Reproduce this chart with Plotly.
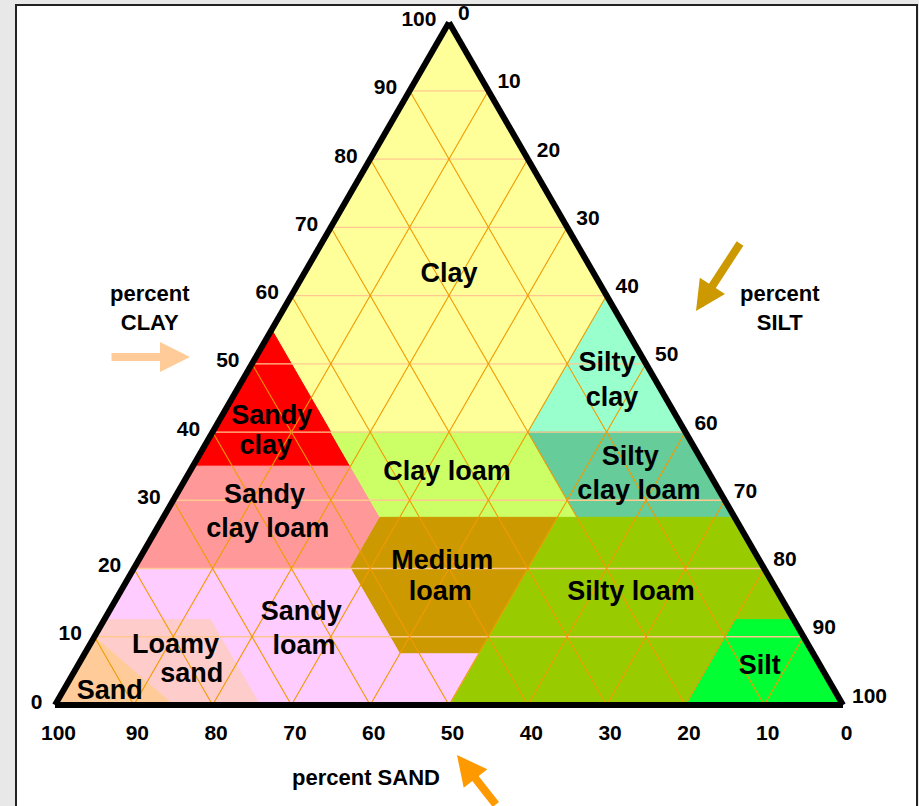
import plotly.graph_objects as go

# ---------------- data ----------------
# ternary convention: a = percent clay, b = percent sand, c = percent silt
TICKS = [0, 10, 20, 30, 40, 50, 60, 70, 80, 90, 100]
GRID_STEPS = [10, 20, 30, 40, 50, 60, 70, 80, 90]

REGION_NAMES = ["Clay", "Sandy clay", "Sandy clay loam", "Clay loam", "Silty clay",
                "Silty clay loam", "Medium loam", "Silty loam", "Silt", "Sandy loam",
                "Loamy sand", "Sand"]
REGION_COLORS = ["#FFFF99", "#FF0000", "#FF9999", "#CCFF66", "#99FFCC",
                 "#66CC99", "#CC9900", "#99CC00", "#00FF33", "#FFCCFF",
                 "#FFCCCC", "#FFCC99"]
REGION_CLAY = [
    [100, 55, 40, 40, 60],
    [55, 35, 35, 40],
    [35, 20, 20, 27.5, 35],
    [40, 27.5, 27.5, 40],
    [60, 40, 40],
    [40, 40, 27.5, 27.5],
    [27.5, 27.5, 7.5, 7.5, 20],
    [27.5, 27.5, 12.5, 12.5, 0, 0, 7.5],
    [12.5, 0, 0, 12.5],
    [20, 20, 7.5, 7.5, 0, 0, 12.5, 12.5],
    [12.5, 12.5, 0, 0, 10],
    [10, 0, 0],
]
REGION_SAND = [
    [0, 45, 45, 20, 0],
    [45, 65, 45, 45],
    [65, 80, 52.5, 45, 45],
    [45, 45, 20, 20],
    [0, 20, 0],
    [0, 20, 20, 0],
    [45, 22.5, 42.5, 52.5, 52.5],
    [22.5, 0, 0, 7.5, 20, 50, 42.5],
    [0, 0, 20, 7.5],
    [80, 52.5, 52.5, 42.5, 50, 74, 74, 87.5],
    [87.5, 74, 74, 85, 90],
    [90, 85, 100],
]
REGION_SILT = [
    [0, 0, 15, 40, 40],
    [0, 0, 20, 15],
    [0, 0, 27.5, 27.5, 20],
    [15, 27.5, 52.5, 40],
    [40, 40, 60],
    [60, 40, 52.5, 72.5],
    [27.5, 50, 50, 40, 27.5],
    [50, 72.5, 87.5, 80, 80, 50, 50],
    [87.5, 100, 80, 80],
    [0, 27.5, 40, 50, 50, 26, 13.5, 0],
    [0, 13.5, 26, 15, 0],
    [0, 15, 0],
]

LABEL_TEXT = ["Clay", "Sandy", "clay", "Sandy", "clay loam", "Clay loam", "Medium", "loam",
              "Silty", "clay", "Silty", "clay loam", "Silty loam", "Silt", "Sandy", "loam",
              "Loamy", "sand", "Sand"]
LABEL_CLAY = [63, 42.2, 37.7, 30.6, 25.6, 33.9, 20.9, 16.4, 49.9, 44.8, 36.2, 31.2, 16.4, 5.5,
              13.5, 8.4, 8.6, 4.3, 1.9]
LABEL_SILT = [18.5, 6.4, 7.9, 11.3, 14.2, 32.8, 38.7, 40.7, 45.1, 48.3, 54.9, 58.5, 64.9,
              86.7, 24.5, 27.4, 11, 15.2, 6]
LABEL_SAND = [100 - c - s for c, s in zip(LABEL_CLAY, LABEL_SILT)]

# ---------------- figure ----------------
W_PX, H_PX = 919, 806
FONT = "Liberation Sans, Arial, sans-serif"

fig = go.Figure()

for name, col, ca, sa, si in zip(REGION_NAMES, REGION_COLORS, REGION_CLAY, REGION_SAND, REGION_SILT):
    fig.add_trace(go.Scatterternary(
        a=ca + [ca[0]], b=sa + [sa[0]], c=si + [si[0]],
        mode="lines", fill="toself", fillcolor=col,
        line=dict(color=col, width=1), name=name, hoverinfo="skip"))

# grid: constant clay (horizontal), constant sand, constant silt
ga, gb, gc = [], [], []
for v in GRID_STEPS:
    ga += [v, v, None]; gb += [100 - v, 0, None]; gc += [0, 100 - v, None]
fig.add_trace(go.Scatterternary(a=ga, b=gb, c=gc, mode="lines",
                                line=dict(color="#FFC890", width=1.3), hoverinfo="skip"))
da, db, dc = [], [], []
for v in GRID_STEPS:
    # constant sand
    da += [0, 100 - v, None]; db += [v, v, None]; dc += [100 - v, 0, None]
    # constant silt
    da += [0, 100 - v, None]; db += [100 - v, 0, None]; dc += [v, v, None]
fig.add_trace(go.Scatterternary(a=da, b=db, c=dc, mode="lines",
                                line=dict(color="#F29A00", width=1.1), hoverinfo="skip"))

fig.add_trace(go.Scatterternary(
    a=LABEL_CLAY, b=LABEL_SAND, c=LABEL_SILT, mode="text", text=LABEL_TEXT,
    textposition="middle center",
    textfont=dict(family=FONT, size=27, color="black", weight="bold"),
    hoverinfo="skip"))

# triangle placement (pixels)
tri_w = 788
base_y = 705
cx = 449
tri_h = tri_w * 3 ** 0.5 / 2
apex_y = base_y - tri_h
dom_x = [(cx - tri_w / 2) / W_PX, (cx + tri_w / 2) / W_PX]
yc = 1 - (base_y + apex_y) / 2 / H_PX
hh = tri_h / H_PX / 2 + 0.002
dom_y = [yc - hh, yc + hh]

axis_common = dict(
    title=dict(text=""),
    tickmode="array", tickvals=TICKS, ticktext=[str(t) for t in TICKS],
    showgrid=False, showline=True, linecolor="black", linewidth=6,
    ticks="outside", ticklen=7, tickcolor="rgba(0,0,0,0)",
    layer="above traces", min=0,
    tickfont=dict(family=FONT, size=21, color="black", weight="bold"),
)

fig.update_layout(
    width=W_PX, height=H_PX,
    margin=dict(l=0, r=0, t=0, b=0),
    paper_bgcolor="#E8E8E8",
    showlegend=False,
    ternary=dict(
        sum=100,
        domain=dict(x=dom_x, y=dom_y),
        bgcolor="rgba(0,0,0,0)",
        aaxis=axis_common, baxis=axis_common, caxis=axis_common,
    ),
    shapes=[dict(type="rect", xref="paper", yref="paper",
                 x0=16 / W_PX, x1=917 / W_PX, y0=-0.02, y1=1 - 5 / H_PX,
                 fillcolor="white", line=dict(color="#222222", width=2), layer="below")],
)

def px(x, y):
    return x / W_PX, 1 - y / H_PX

ann = []
for txt, (x, y) in [("percent<br>CLAY", (150, 308)), ("percent<br>SILT", (780, 308)),
                    ("percent SAND", (366, 777))]:
    xp, yp = px(x, y)
    ann.append(dict(text=txt, x=xp, y=yp, xref="paper", yref="paper", showarrow=False,
                    font=dict(family=FONT, size=22, color="black", weight="bold"),
                    xanchor="center", yanchor="middle"))
for (hx, hy), (tx, ty), col in [((190, 357), (110, 357), "#FFCC99"),
                                ((696, 311), (741, 242), "#CC9900"),
                                ((457, 755), (497, 812), "#FF9900")]:
    xp, yp = px(hx, hy)
    ann.append(dict(text="", x=xp, y=yp, xref="paper", yref="paper", showarrow=True,
                    ax=tx - hx, ay=ty - hy, arrowhead=2, arrowsize=0.75, arrowwidth=8,
                    arrowcolor=col, standoff=0, startstandoff=0))
fig.update_layout(annotations=ann)

fig.write_html("out.html", config={"displayModeBar": False},
               post_script="document.body.style.margin='0';")
